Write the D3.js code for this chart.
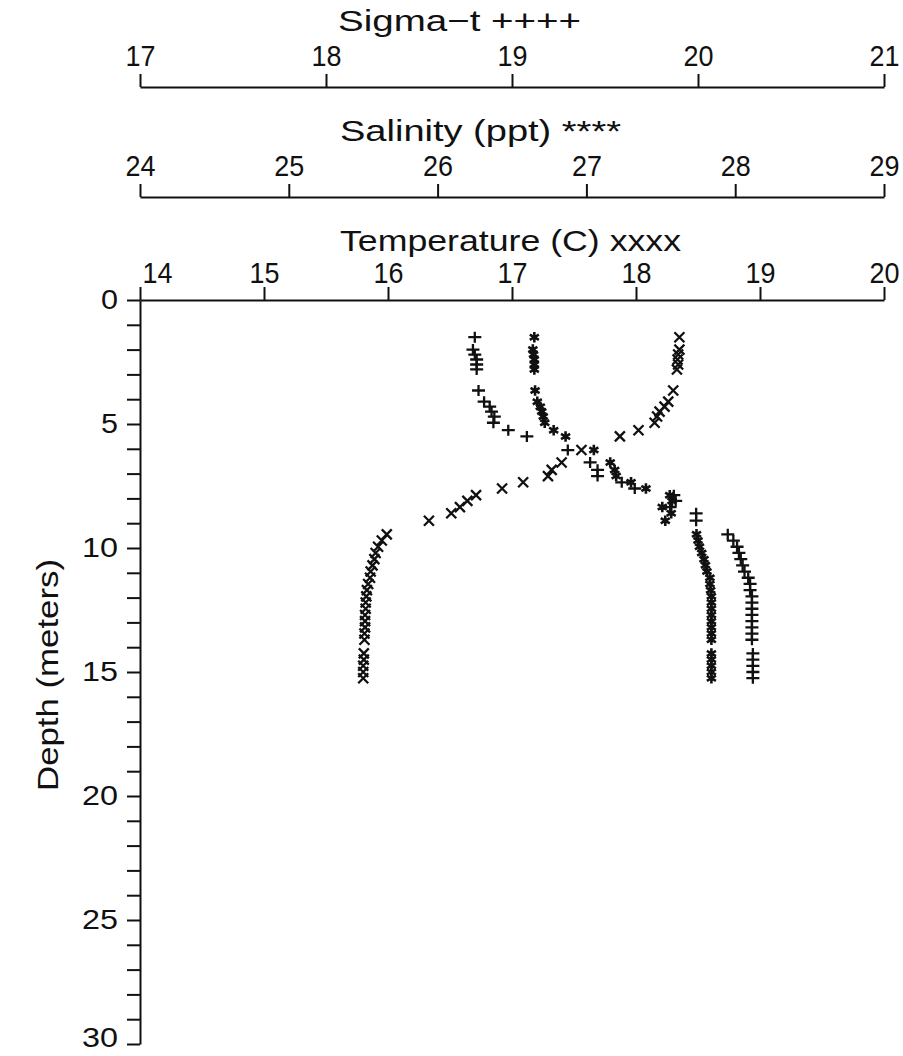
<!DOCTYPE html>
<html>
<head>
<meta charset="utf-8">
<script src="https://cdn.jsdelivr.net/npm/d3@7"></script>
<style>
  html, body { margin: 0; padding: 0; background: #fff; }
  svg { display: block; }
  text { font-family: "Liberation Sans", Arial, sans-serif; fill: #111; }
</style>
</head>
<body>
<svg id="chart" width="903" height="1056"></svg>
<script>
// ---- data ----
const depths = [1.5, 2.0, 2.2, 2.4, 2.6, 2.8, 3.65, 4.1, 4.3, 4.5, 4.7, 4.95,
  5.25, 5.5, 6.05, 6.55, 6.85, 7.1, 7.35, 7.6, 7.87, 8.1, 8.35, 8.6,
  8.9, 9.45, 9.7, 9.95, 10.2, 10.45, 10.7, 10.95, 11.2, 11.45, 11.7, 11.95,
  12.2, 12.45, 12.7, 12.95, 13.2, 13.45, 13.7, 14.25, 14.5, 14.75, 15.0, 15.25];

const temperature = [18.35, 18.35, 18.34, 18.335, 18.34, 18.33, 18.30, 18.26, 18.23, 18.19, 18.17, 18.15,
  18.02, 17.87, 17.56, 17.40, 17.32, 17.29, 17.09, 16.92, 16.71, 16.64, 16.58, 16.51,
  16.33, 15.99, 15.95, 15.92, 15.90, 15.89, 15.875, 15.86, 15.855, 15.84, 15.83, 15.825,
  15.82, 15.82, 15.815, 15.815, 15.815, 15.81, 15.81, 15.805, 15.805, 15.80, 15.80, 15.80];

const salinity = [26.65, 26.64, 26.645, 26.65, 26.65, 26.65, 26.655, 26.67, 26.69, 26.70, 26.71, 26.72,
  26.78, 26.86, 27.05, 27.16, 27.19, 27.20, 27.30, 27.40, 27.56, 27.575, 27.51, 27.57,
  27.53, 27.74, 27.75, 27.76, 27.775, 27.79, 27.80, 27.81, 27.83, 27.83, 27.835, 27.84,
  27.84, 27.84, 27.84, 27.84, 27.84, 27.84, 27.84, 27.84, 27.84, 27.84, 27.84, 27.84];

const sigmaT = [18.80, 18.79, 18.80, 18.81, 18.81, 18.81, 18.82, 18.85, 18.88, 18.89, 18.905, 18.90,
  18.98, 19.08, 19.30, 19.42, 19.46, 19.46, 19.59, 19.66, 19.87, 19.88, 19.85, 19.99,
  19.99, 20.16, 20.19, 20.21, 20.22, 20.23, 20.24, 20.25, 20.27, 20.28, 20.28, 20.29,
  20.29, 20.29, 20.29, 20.29, 20.29, 20.29, 20.29, 20.295, 20.295, 20.295, 20.295, 20.295];

const sigmaTicks = [17, 18, 19, 20, 21];
const salinityTicks = [24, 25, 26, 27, 28, 29];
const tempTicks = [14, 15, 16, 17, 18, 19, 20];
const depthTicks = d3.range(0, 31, 1);
const depthLabels = [0, 5, 10, 15, 20, 25, 30];

const titles = {
  sigma: "Sigma\u2212t ++++",
  salinity: "Salinity (ppt) ****",
  temperature: "Temperature (C) xxxx",
  depth: "Depth (meters)"
};

// ---- scales ----
const left = 140, right = 884;
const xSigma = d3.scaleLinear().domain([17, 21]).range([left, right]);
const xSal = d3.scaleLinear().domain([24, 29]).range([left, right]);
const xTemp = d3.scaleLinear().domain([14, 20]).range([left, right]);
const y = d3.scaleLinear().domain([0, 30]).range([300, 1044]);

const svg = d3.select("#chart");
const FS = 30;
const INK = "#111";

function topAxis(scale, ticks, yLine, pad) {
  const g = svg.append("g").attr("transform", `translate(0,${yLine})`)
    .call(d3.axisTop(scale).tickValues(ticks).tickSize(13).tickSizeOuter(0).tickPadding(pad).tickFormat(d3.format("d")));
  g.attr("font-family", null).attr("font-size", null);
  g.select(".domain").attr("stroke", INK).attr("stroke-width", 2);
  g.selectAll(".tick line").attr("stroke", INK).attr("stroke-width", 2);
  g.selectAll(".tick text").attr("font-size", FS).attr("fill", INK)
    .attr("textLength", 30).attr("lengthAdjust", "spacingAndGlyphs");
  return g;
}

topAxis(xSigma, sigmaTicks, 87, 8);
topAxis(xSal, salinityTicks, 197, 8);
const gT = topAxis(xTemp, tempTicks, 300, 4);
gT.selectAll(".tick text").filter(d => d === 14).attr("dx", 17);

// titles
function title(txt, x, yb, len) {
  svg.append("text").attr("x", x).attr("y", yb).attr("font-size", FS)
    .attr("textLength", len).attr("lengthAdjust", "spacingAndGlyphs").text(txt);
}
title(titles.sigma, 338, 31, 243);
title(titles.salinity, 340, 141, 281);
title(titles.temperature, 340, 251, 341);

// depth axis
const gY = svg.append("g").attr("transform", `translate(${left},0)`)
  .call(d3.axisLeft(y).tickValues(depthTicks).tickSize(13).tickSizeOuter(0).tickPadding(9)
    .tickFormat(d => depthLabels.includes(d) ? d : ""));
gY.attr("font-family", null).attr("font-size", null);
gY.select(".domain").attr("stroke", INK).attr("stroke-width", 2);
gY.selectAll(".tick line").attr("stroke", INK).attr("stroke-width", 2);
gY.selectAll(".tick text").attr("font-size", 28).attr("fill", INK)
  .attr("textLength", d => String(d).length === 1 ? 17 : 36)
  .attr("lengthAdjust", "spacingAndGlyphs");
gY.selectAll(".tick text").filter(d => d === 30).attr("dy", "0.1em");

svg.append("text")
  .attr("transform", `translate(58,675) rotate(-90)`)
  .attr("text-anchor", "middle").attr("font-size", FS)
  .attr("textLength", 232).attr("lengthAdjust", "spacingAndGlyphs")
  .text(titles.depth);

// ---- marker symbols ----
const symTimes = { draw(ctx, size) { const r = Math.sqrt(size) / 2;
  ctx.moveTo(-r, -r); ctx.lineTo(r, r); ctx.moveTo(r, -r); ctx.lineTo(-r, r); } };
const symPlus = { draw(ctx, size) { const r = Math.sqrt(size) / 2;
  ctx.moveTo(-r, 0); ctx.lineTo(r, 0); ctx.moveTo(0, -r * 0.85); ctx.lineTo(0, r * 0.85); } };
const symStar = { draw(ctx, size) { const r = Math.sqrt(size) / 2;
  for (let i = 0; i < 3; i++) { const a = Math.PI / 2 + i * Math.PI / 3;
    ctx.moveTo(r * Math.cos(a), r * Math.sin(a)); ctx.lineTo(-r * Math.cos(a), -r * Math.sin(a)); } } };

function series(values, scale, type, size, sw) {
  svg.append("g").selectAll("path").data(values).join("path")
    .attr("transform", (d, i) => `translate(${scale(d)},${y(depths[i])})`)
    .attr("d", d3.symbol().type(type).size(size)())
    .attr("fill", "none").attr("stroke", INK).attr("stroke-width", sw)
    .attr("stroke-linecap", "butt");
}
series(temperature, xTemp, symTimes, 100, 2.3);
series(salinity, xSal, symStar, 110, 2.6);
series(sigmaT, xSigma, symPlus, 169, 2.3);
</script>
</body>
</html>
